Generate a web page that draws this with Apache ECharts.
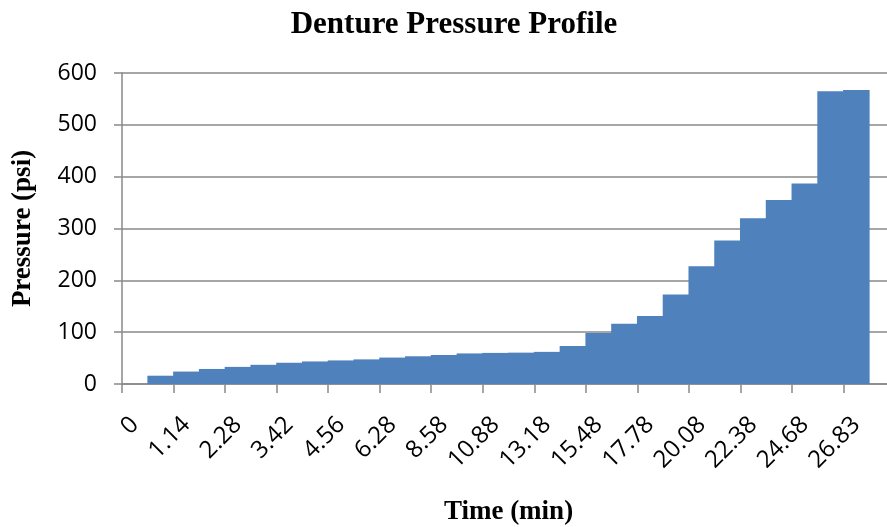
<!DOCTYPE html>
<html>
<head>
<meta charset="utf-8">
<script src="https://cdn.jsdelivr.net/npm/echarts@6/dist/echarts.min.js"></script>
<style>
html,body{margin:0;padding:0;background:#fff;}
#chart{width:887px;height:527px;}
</style>
</head>
<body>
<div id="chart"></div>
<script>
var categories = ["0","0.57","1.14","1.71","2.28","2.85","3.42","3.99","4.56","5.42","6.28","7.43","8.58","9.73","10.88","12.03","13.18","14.33","15.48","16.63","17.78","18.93","20.08","21.23","22.38","23.53","24.68","25.76","26.83","27.98"];
var pressure = [0,16,24,29,33,37,41,43.5,45.5,47.5,51,53.5,56,59,60,60.5,62,73.5,98.5,116,131,172.5,227,277,320,355,387,565,567,null];
var yTicks = {min:0, max:600, interval:100};
var titleText = "Denture Pressure Profile";
var xTitle = "Time (min)";
var yTitle = "Pressure (psi)";

var chart = echarts.init(document.getElementById('chart'), null, {renderer:'canvas'});
var axisGray = '#898989';
chart.setOption({
  animation:false,
  backgroundColor:'#ffffff',
  title:{
    text:titleText,
    left:449, top:4, textAlign:'center',
    textStyle:{fontFamily:'Liberation Serif', fontWeight:'bold', fontSize:31, color:'#000'}
  },
  grid:{left:122, right:-8, top:73, bottom:143, containLabel:false, outerBoundsMode:'none'},
  xAxis:{
    type:'category',
    data:categories,
    boundaryGap:true,
    name:xTitle,
    nameLocation:'middle',
    nameGap:115,
    nameTextStyle:{fontFamily:'Liberation Serif', fontWeight:'bold', fontSize:27, color:'#000'},
    axisLine:{show:true, lineStyle:{color:axisGray, width:1.5}},
    axisTick:{show:true, interval:1, length:9, inside:false, lineStyle:{color:axisGray, width:1.5}},
    axisLabel:{interval:1, rotate:45, margin:37, fontFamily:'Open Sans', fontSize:24, color:'#000'},
    splitLine:{show:false}
  },
  yAxis:{
    type:'value',
    min:yTicks.min, max:yTicks.max, interval:yTicks.interval,
    name:yTitle,
    nameLocation:'middle',
    nameGap:85,
    nameTextStyle:{fontFamily:'Liberation Serif', fontWeight:'bold', fontSize:27, color:'#000'},
    axisLine:{show:true, lineStyle:{color:axisGray, width:1.5}},
    axisTick:{show:true, length:8, inside:false, lineStyle:{color:axisGray, width:1.5}},
    axisLabel:{margin:25, fontFamily:'Open Sans', fontSize:23, color:'#000'},
    splitLine:{show:true, lineStyle:{color:axisGray, width:1.5}}
  },
  series:[{
    type:'bar',
    data:pressure,
    barCategoryGap:'-3%',
    itemStyle:{color:'#4F81BD'}
  }]
});
</script>
</body>
</html>
